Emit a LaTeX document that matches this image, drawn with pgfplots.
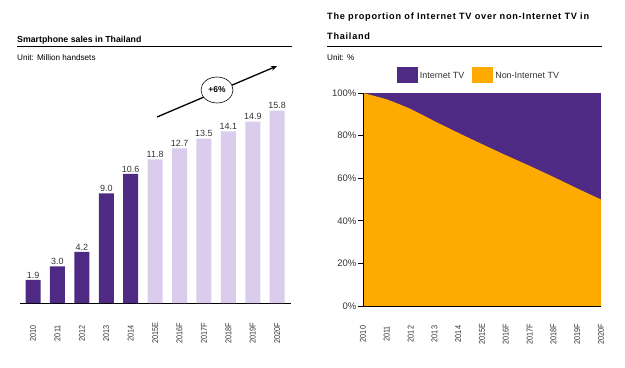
\documentclass[border=0pt]{standalone}
\usepackage{fontspec}
\setmainfont{Liberation Sans}
\newfontfamily\lsf[LetterSpace=8]{Liberation Sans}
\newfontfamily\cnd[FakeStretch=0.86]{Liberation Sans}
\usepackage{pgfplots}
\pgfplotsset{compat=1.18}
\usetikzlibrary{arrows.meta}
\definecolor{dpurple}{HTML}{4E2A84}
\definecolor{lpurple}{HTML}{D9CCEC}
\definecolor{orng}{HTML}{FFAA00}
\definecolor{tgray}{HTML}{333333}
\begin{document}
\begin{tikzpicture}[x=1bp,y=1bp]
\path[use as bounding box] (0,0) rectangle (625,367);
% ---------- left titles
\node[anchor=base west, inner sep=0, font=\bfseries\fontsize{8.8}{11}\selectfont] at (17,367-42) {Smartphone sales in Thailand};
\draw[line width=1bp] (17,367-46) -- (292,367-46);
\node[anchor=base west, inner sep=0, font=\fontsize{8.2}{9}\selectfont] at (17,367-60) {Unit: Million handsets};
% ---------- right titles
\node[anchor=base west, inner sep=0, font=\lsf\bfseries\fontsize{9.2}{11}\selectfont] at (327,367-19) {The proportion of Internet TV over non-Internet TV in};
\node[anchor=base west, inner sep=0, font=\lsf\bfseries\fontsize{9.2}{11}\selectfont] at (327,367-39) {Thailand};
\draw[line width=1bp] (327,367-46) -- (602,367-46);
\node[anchor=base west, inner sep=0, font=\fontsize{8.2}{9}\selectfont] at (327,367-60) {Unit: \%};
% ---------- left axis
\begin{axis}[
  at={(19.6bp,64bp)}, anchor=south west, scale only axis,
  width=271bp, height=207bp,
  xmin=-0.55, xmax=10.55, ymin=0, ymax=17,
  /pgf/number format/assume math mode=true,
  axis x line=bottom, axis y line=none,
  x axis line style={-, line width=1bp},
  xtick={0,...,10},
  xticklabels={2010,2011,2012,2013,2014,2015E,2016F,2017F,2018F,2019F,2020F},
  x tick label style={rotate=90, anchor=center, font=\cnd\fontsize{8.5}{9}\selectfont, text=tgray},
  xtick style={draw=none},
  xticklabel shift=26bp,
  ybar, bar width=15bp,
  nodes near coords,
  nodes near coords style={font=\fontsize{9}{10}\selectfont, text=tgray, inner sep=1.5bp,
    /pgf/number format/.cd, fixed, fixed zerofill, precision=1, assume math mode=true},
  clip=false,
]
\addplot[bar shift=0pt, fill=dpurple, draw=none] coordinates {(0,1.9)(1,3.0)(2,4.2)(3,9.0)(4,10.6)};
\addplot[bar shift=0pt, fill=lpurple, draw=none] coordinates {(5,11.8)(6,12.7)(7,13.5)(8,14.1)(9,14.9)(10,15.8)};
\end{axis}
% arrow and ellipse
\draw[line width=1.3bp, -{Stealth[length=6bp,width=5bp]}] (157,367-117) -- (277,367-66);
\draw[fill=white, line width=0.6bp] (217,367-90) ellipse (16bp and 13bp);
\node[font=\bfseries\fontsize{8.5}{9}\selectfont] at (217,367-90) {+6\%};
% ---------- right axis
\begin{axis}[
  at={(363bp,61bp)}, anchor=south west, scale only axis,
  width=238bp, height=213bp,
  xmin=0, xmax=10, ymin=0, ymax=100,
  /pgf/number format/assume math mode=true,
  axis x line=bottom, axis y line=left,
  axis line style={-, line width=1bp},
  xtick={0,...,10},
  xticklabels={2010,2011,2012,2013,2014,2015E,2016F,2017F,2018F,2019F,2020F},
  x tick label style={rotate=90, anchor=center, font=\cnd\fontsize{8.5}{9}\selectfont, text=tgray},
  xtick style={draw=none},
  xticklabel shift=23bp,
  ytick={0,20,...,100},
  yticklabel={\pgfmathprintnumber{\tick}\%},
  y tick label style={font=\fontsize{9.5}{10}\selectfont, text=tgray, inner sep=1.5bp},
  ytick style={line width=0.8bp, black},
  tick align=outside, major tick length=5bp,
  axis on top,
  legend style={at={(0.5,1.0)}, anchor=south, yshift=8bp, xshift=-3bp, draw=none, fill=none,
    font=\fontsize{9}{10}\selectfont, text=tgray, legend columns=2,
    /tikz/every even column/.append style={column sep=6bp}},
  legend image code/.code={\path[#1] (0bp,-7bp) rectangle (21bp,9bp);},
]
\addplot[fill=dpurple, draw=none] coordinates {(0,100)(10,100)} \closedcycle;
\addlegendentry{Internet TV}
\addplot[fill=orng, draw=none, smooth, tension=0.3] coordinates {(0,100)(1,97)(2,92.5)(3,86.8)(4,81.3)(5,76)(6,70.8)(7,65.8)(8,60.6)(9,55.2)(10,50)} \closedcycle;
\addlegendentry{Non-Internet TV}
\end{axis}
\end{tikzpicture}
\end{document}
